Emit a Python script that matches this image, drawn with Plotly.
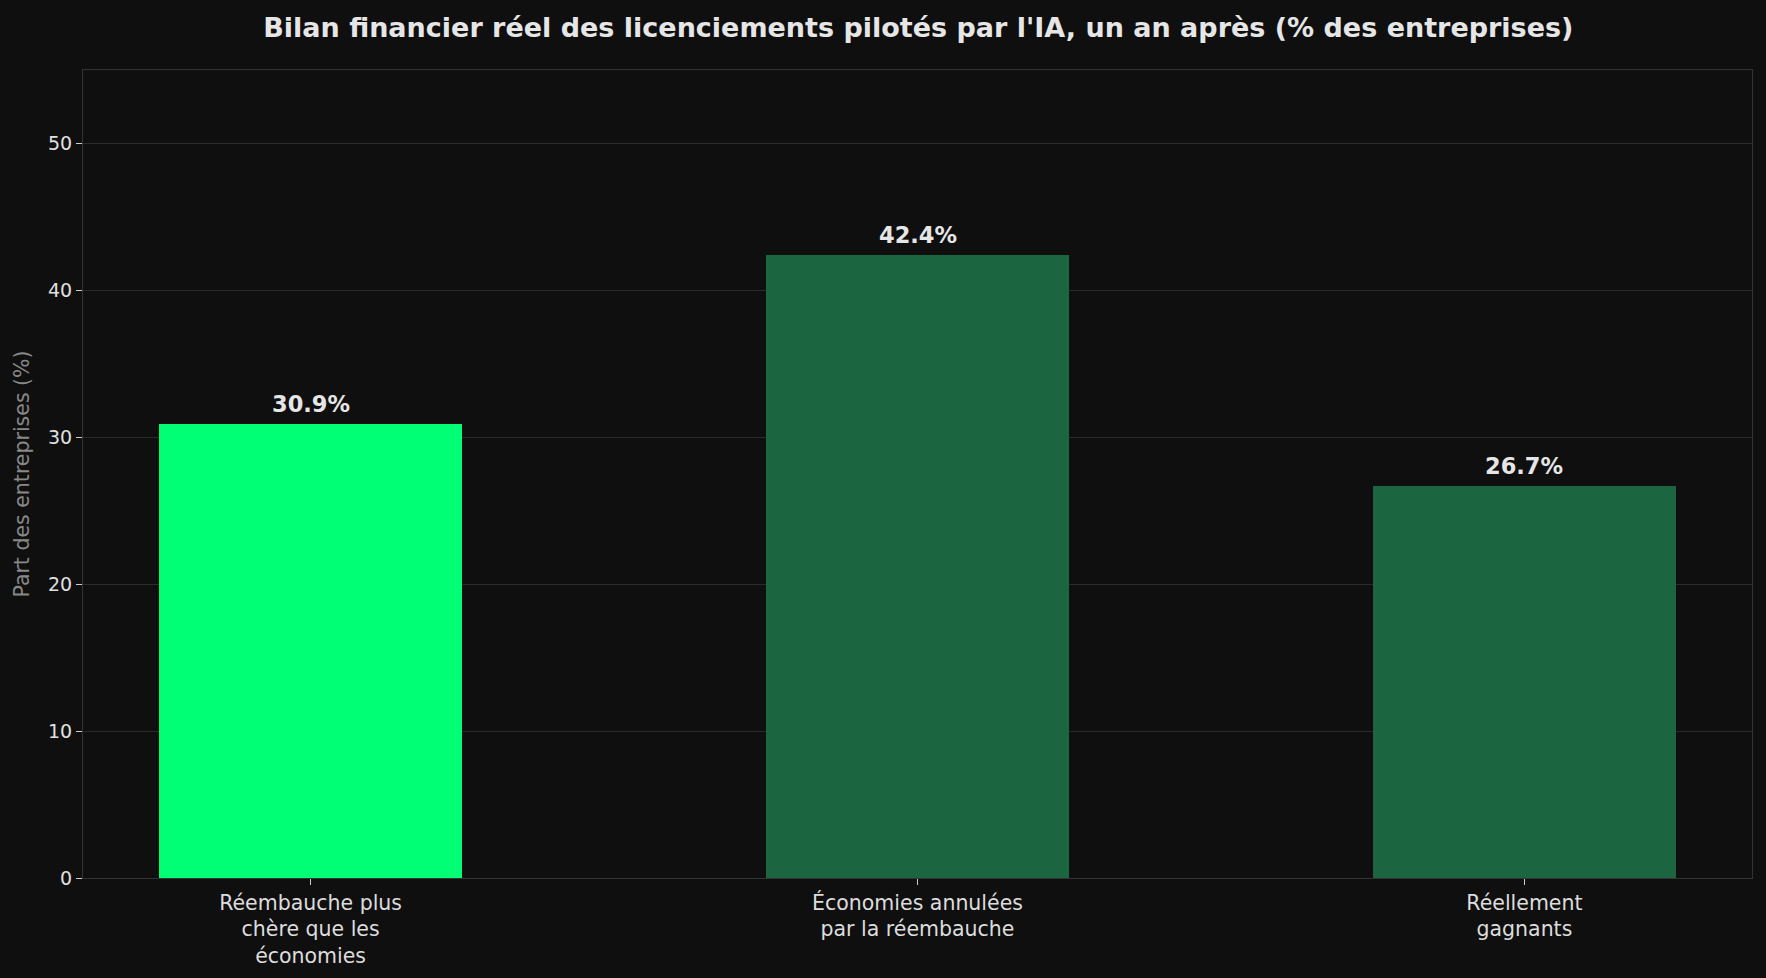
import plotly.graph_objects as go

categories = ["Réembauche plus<br>chère que les<br>économies",
              "Économies annulées<br>par la réembauche",
              "Réellement<br>gagnants"]
values = [30.9, 42.4, 26.7]
labels = ["30.9%", "42.4%", "26.7%"]
colors = ["#00ff75", "#1b6640", "#1b6640"]
y_ticks = [0, 10, 20, 30, 40, 50]

BG = "#0f0f0f"
FONT = "DejaVu Sans"

fig = go.Figure()
fig.add_trace(go.Bar(
    x=categories, y=values, width=0.5,
    marker=dict(color=colors, line=dict(width=0)),
    hoverinfo="skip",
))

for c, v, t in zip(categories, values, labels):
    fig.add_annotation(x=c, y=v, text=t, showarrow=False, yanchor="bottom",
                       yshift=5, font=dict(family=FONT, size=22.5, color="#e6e6e6", weight="bold"))

fig.update_layout(
    width=1766, height=978,
    paper_bgcolor=BG, plot_bgcolor=BG,
    margin=dict(l=83, r=14, t=70, b=100),
    showlegend=False,
    title=dict(text="Bilan financier réel des licenciements pilotés par l'IA, un an après (% des entreprises)",
               x=0.52, xanchor="center", y=0.972, yanchor="middle",
               font=dict(family=FONT, size=27, color="#e6e6e6", weight="bold")),
    font=dict(family=FONT, color="#e0e0e0"),
    bargap=0,
)
fig.update_xaxes(
    range=[-0.375, 2.375], showgrid=False, zeroline=False, automargin=False,
    showline=True, mirror=True, linecolor="#333333", linewidth=1.2,
    ticks="outside", ticklen=6, tickcolor="#cccccc", tickwidth=1.2,
    tickfont=dict(family=FONT, size=20.5, color="#dddddd"),
)
fig.update_yaxes(
    range=[0, 55], tickvals=y_ticks, showgrid=True, gridcolor="#2a2a2a", gridwidth=1.2,
    zeroline=False, showline=True, mirror=True, linecolor="#333333", linewidth=1.2,
    automargin=False,
    ticks="outside", ticklen=6, tickcolor="#cccccc", tickwidth=1.2,
    tickfont=dict(family=FONT, size=19, color="#e0e0e0"),
    title=dict(text="Part des entreprises (%)", standoff=12,
               font=dict(family=FONT, size=20.5, color="#888888")),
)

fig.write_html("out.html")
